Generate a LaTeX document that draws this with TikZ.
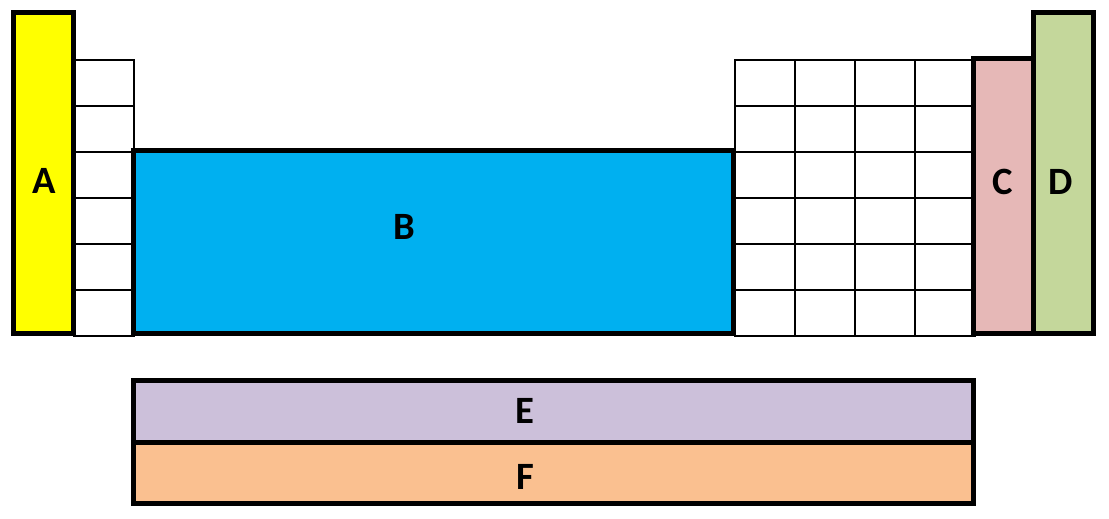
\documentclass[tikz,border=0pt]{standalone}
\usepackage{fontspec}
\setmainfont{Carlito}
\usetikzlibrary{positioning}
\definecolor{blkA}{HTML}{FFFF00}
\definecolor{blkB}{HTML}{00B0F0}
\definecolor{blkC}{HTML}{E6B8B7}
\definecolor{blkD}{HTML}{C4D79B}
\definecolor{blkE}{HTML}{CCC0DA}
\definecolor{blkF}{HTML}{FAC090}
\begin{document}
\begin{tikzpicture}[x=0.02cm, y=-0.02cm,
				cell/.style={draw, line width=0.04cm},
				block/.style={draw, line width=0.1cm},
				lbl/.style={font=\fontsize{22}{24}\selectfont\bfseries, inner sep=0pt}
			]
			\useasboundingbox (0,0) rectangle (1109,519);
			% Small cells
			\foreach \r in {0,...,5} {
				\draw[cell] (73.5,60+46*\r) rectangle (134,106+46*\r);
				\foreach \c in {0,...,3}
					\draw[cell] (735+60*\c,60+46*\r) rectangle (795+60*\c,106+46*\r);
			}

			% Blocks
			\draw[block, fill=blkA] (13.5,12.5) rectangle (73.5,334);
			\draw[block, fill=blkB] (133.5,150.5) rectangle (733.5,334);
			\draw[block, fill=blkC] (973.5,58.5) rectangle (1033.5,334);
			\draw[block, fill=blkD] (1033.5,12.5) rectangle (1093.5,334);
			\draw[block, fill=blkE] (133.5,381) rectangle (973.5,442.5);
			\draw[block, fill=blkF] (133.5,442.5) rectangle (973.5,504);

			% Labels
			\node[lbl] (labA) at (44,181) {A};
			\node[lbl] (labB) at (404,227) {B};
			\node[lbl] (labC) at (1003,182) {C};
			\node[lbl] (labD) at (1061,182) {D};
			\node[lbl] (labE) at (525,410.5) {E};
			\node[lbl] (labF) at (525,477) {F};
		\end{tikzpicture}
\end{document}
